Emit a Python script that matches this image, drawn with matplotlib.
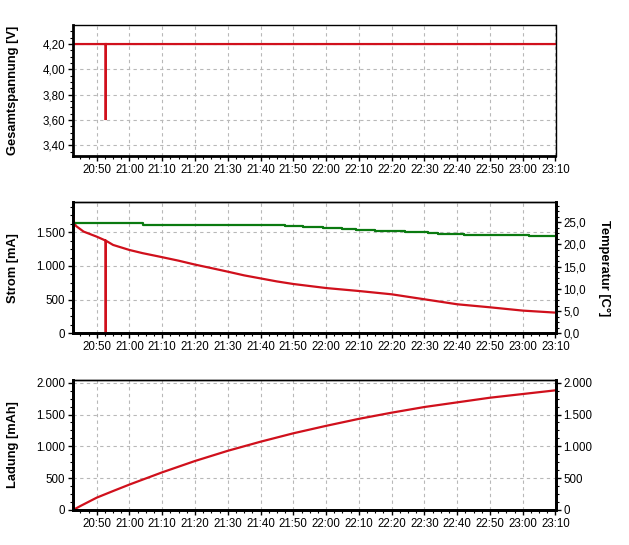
import matplotlib
matplotlib.use("Agg")
import matplotlib.pyplot as plt
from matplotlib.ticker import MultipleLocator, AutoMinorLocator, FuncFormatter

plt.rcParams['font.family'] = ['Liberation Sans', 'DejaVu Sans']

# ---------------- data ----------------
volt_times = ["20:42:46", "20:52:45", "20:52:45", "20:52:46", "23:10:00"]
volt_values = [4.20, 4.20, 3.60, 4.20, 4.20]

curr_times = ["20:42:46", "20:43:05", "20:43:40", "20:46:00", "20:50:00", "20:52:45", "20:52:45",
              "20:52:46", "20:52:46", "20:55:00", "21:00:00", "21:04:00", "21:09:00", "21:15:00",
              "21:20:00", "21:25:00", "21:30:00", "21:35:00", "21:40:00", "21:45:00", "21:50:00",
              "22:00:00", "22:10:00", "22:20:00", "22:30:00", "22:40:00", "22:50:00", "23:00:00",
              "23:10:00"]
curr_values = [1780, 1650, 1594, 1510, 1435, 1376, 0,
               0, 1376, 1312, 1237, 1190, 1140, 1078,
               1020, 968, 915, 860, 815, 770, 732,
               672, 628, 579, 505, 431, 386, 337,
               307]

temp_times = ["20:42:46", "21:04:00", "21:47:36", "21:53:00", "21:59:00", "22:05:00", "22:09:00",
              "22:15:00", "22:24:00", "22:31:00", "22:34:00", "22:42:00", "23:02:00", "23:10:00"]
temp_values = [24.8, 24.5, 24.2, 24.0, 23.8, 23.6, 23.3,
               23.0, 22.8, 22.6, 22.4, 22.2, 22.0, 22.0]

charge_times = ["20:42:46", "20:45:00", "20:50:00", "20:55:00", "21:00:00", "21:10:00", "21:20:00",
                "21:30:00", "21:40:00", "21:50:00", "22:00:00", "22:10:00", "22:20:00", "22:30:00",
                "22:40:00", "22:50:00", "23:00:00", "23:10:00"]
charge_values = [0, 62, 194, 298, 400, 592, 770,
                 930, 1073, 1205, 1322, 1432, 1529, 1618,
                 1691, 1764, 1822, 1880]

x_start = "20:42:46"
x_end = "23:10:00"


def to_min(s):
    h, m, sec = (int(p) for p in s.split(":"))
    return h * 60 + m + sec / 60.0


def de_fmt(dec):
    def f(v, pos):
        s = f"{v:,.{dec}f}"
        return s.replace(",", "X").replace(".", ",").replace("X", ".")
    return FuncFormatter(f)


def time_fmt(v, pos):
    v = round(v)
    return f"{int(v // 60) % 24:02d}:{int(v % 60):02d}"


RED = "#d0101c"
GREEN = "#0a7a10"
GRID = "#b8b8b8"
TICKSIZE = 8.3

fig = plt.figure(figsize=(6.29, 5.45), dpi=100)
W, H = 629, 545
left, right = 73 / W, 555.5 / W


def make_ax(top_px, bot_px):
    return fig.add_axes([left, 1 - bot_px / H, right - left, (bot_px - top_px) / H])


def style_ax(ax, thick_right=False):
    ax.set_xlim(to_min(x_start), to_min(x_end))
    ax.xaxis.set_major_locator(MultipleLocator(10))
    ax.xaxis.set_minor_locator(MultipleLocator(2.5))
    ax.xaxis.set_major_formatter(FuncFormatter(time_fmt))
    ax.yaxis.set_minor_locator(AutoMinorLocator(4))
    ax.grid(True, which="major", color=GRID, linestyle=(0, (3, 3)), linewidth=0.8)
    ax.tick_params(axis="both", which="major", direction="out", length=3.5, width=1,
                   labelsize=TICKSIZE, colors="black", pad=2)
    ax.tick_params(axis="both", which="minor", direction="out", length=2, width=0.8)
    for s in ["left", "bottom"]:
        ax.spines[s].set_linewidth(2.0)
    ax.spines["top"].set_linewidth(1.0)
    ax.spines["right"].set_linewidth(2.0 if thick_right else 1.0)


def style_right(axr):
    axr.yaxis.set_minor_locator(AutoMinorLocator(4))
    axr.tick_params(axis="y", which="major", direction="out", length=3.5, width=1,
                    labelsize=TICKSIZE, pad=2)
    axr.tick_params(axis="y", which="minor", direction="out", length=2, width=0.8)
    for s in ["left", "bottom", "right"]:
        axr.spines[s].set_linewidth(2.0)
    axr.spines["top"].set_linewidth(1.0)


# --- top: voltage ---
ax1 = make_ax(25.3, 156)
ax1.plot([to_min(t) for t in volt_times], volt_values, color=RED, lw=1.6, solid_joinstyle="miter")
ax1.set_ylim(3.316, 4.348)
ax1.yaxis.set_major_locator(MultipleLocator(0.2))
ax1.yaxis.set_major_formatter(de_fmt(2))
style_ax(ax1)
ax1.set_ylabel("Gesamtspannung [V]", fontsize=9.3, fontweight="bold")
ax1.yaxis.set_label_coords(-0.112, 0.5)

# --- middle: current + temperature ---
ax2 = make_ax(202.3, 333.3)
ax2.plot([to_min(t) for t in curr_times], curr_values, color=RED, lw=1.6, zorder=3)
ax2.set_ylim(0, 1945)
ax2.yaxis.set_major_locator(MultipleLocator(500))
ax2.yaxis.set_major_formatter(de_fmt(0))
style_ax(ax2, thick_right=True)
ax2.set_ylabel("Strom [mA]", fontsize=9.3, fontweight="bold")
ax2.yaxis.set_label_coords(-0.112, 0.5)

ax2r = ax2.twinx()
ax2r.plot([to_min(t) for t in temp_times], temp_values, color=GREEN, lw=1.6, drawstyle="steps-post")
ax2r.set_ylim(0, 29.5)
ax2r.yaxis.set_major_locator(MultipleLocator(5))
ax2r.yaxis.set_major_formatter(de_fmt(1))
style_right(ax2r)
ax2r.set_ylabel("Temperatur [C°]", fontsize=9.3, fontweight="bold", rotation=-90)
ax2r.yaxis.set_label_coords(1.113, 0.5)

# --- bottom: charge ---
ax3 = make_ax(379.7, 510)
ax3.plot([to_min(t) for t in charge_times], charge_values, color=RED, lw=1.6)
ax3.set_ylim(0, 2047)
ax3.yaxis.set_major_locator(MultipleLocator(500))
ax3.yaxis.set_major_formatter(de_fmt(0))
style_ax(ax3, thick_right=True)
ax3.set_ylabel("Ladung [mAh]", fontsize=9.3, fontweight="bold")
ax3.yaxis.set_label_coords(-0.112, 0.5)

ax3r = ax3.twinx()
ax3r.set_ylim(0, 2047)
ax3r.yaxis.set_major_locator(MultipleLocator(500))
ax3r.yaxis.set_major_formatter(de_fmt(0))
style_right(ax3r)

fig.savefig("out.png", dpi=100)
